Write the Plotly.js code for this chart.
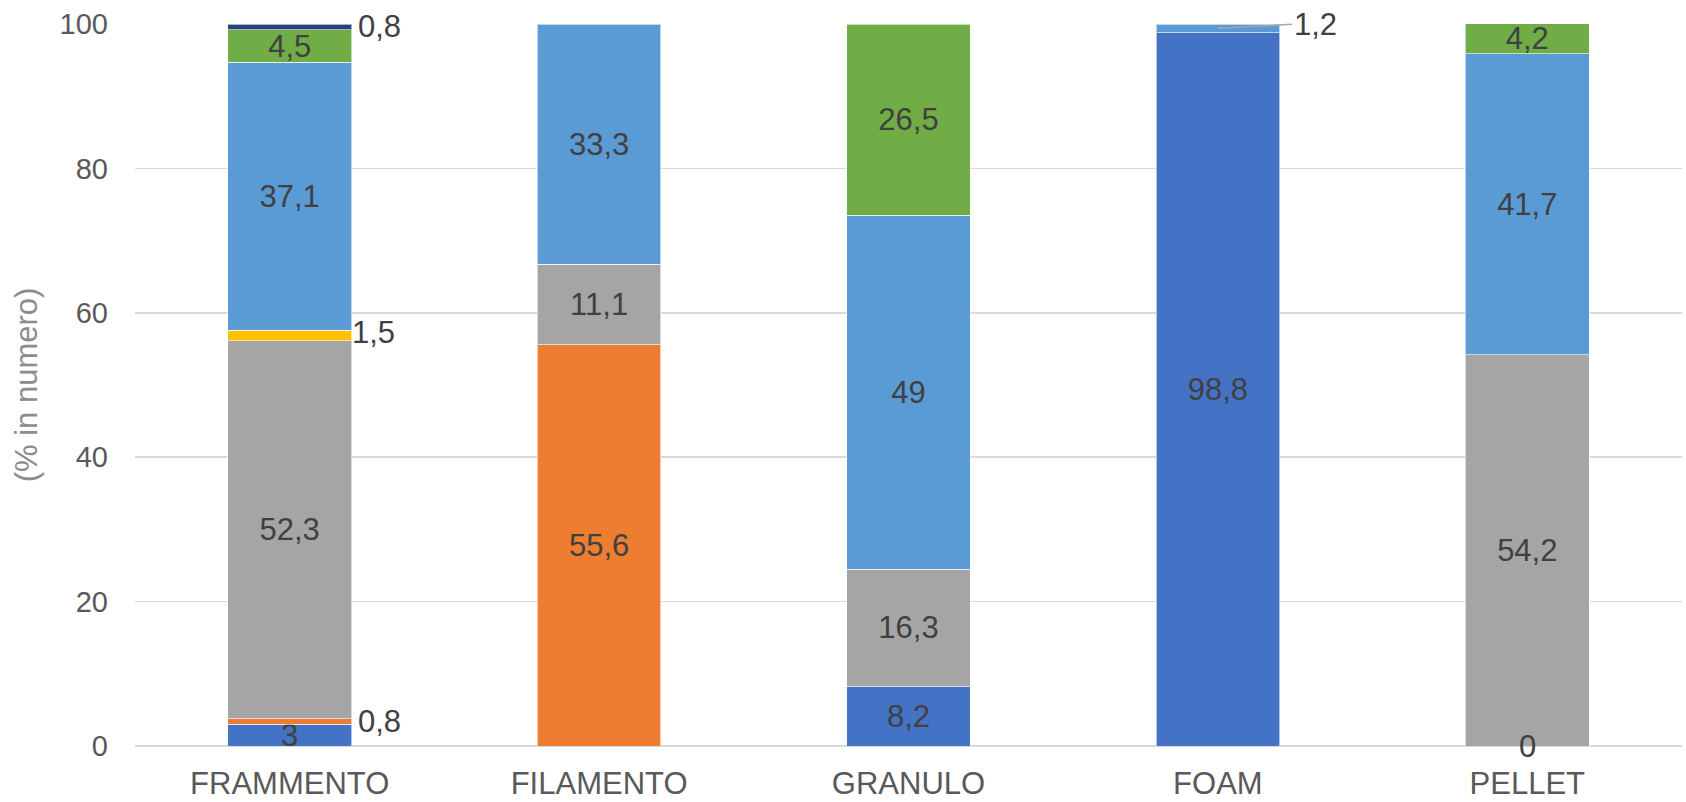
<!DOCTYPE html>
<html>
<head>
<meta charset="utf-8">
<script src="https://cdn.plot.ly/plotly-3.0.1.min.js"></script>
<style>
  html, body { margin: 0; padding: 0; background: #ffffff; }
  #chart { width: 1686px; height: 802px; }
</style>
</head>
<body>
<div id="chart"></div>
<script>
// Categorie di forma delle microplastiche
const categories = ['FRAMMENTO', 'FILAMENTO', 'GRANULO', 'FOAM', 'PELLET'];

// Percentuali (in numero) per ciascuna serie, impilate dal basso verso l'alto
const serie1 = [3, null, 8.2, 98.8, 0];        // blu
const serie2 = [0.8, 55.6, null, null, null];  // arancio
const serie3 = [52.3, 11.1, 16.3, null, 54.2]; // grigio
const serie4 = [1.5, null, null, null, null];  // giallo
const serie5 = [37.1, 33.3, 49, 1.2, 41.7];    // azzurro
const serie6 = [4.5, null, 26.5, null, 4.2];   // verde
const serie7 = [0.8, null, null, null, null];  // blu scuro

const yTicks = [0, 20, 40, 60, 80, 100];

const series = [serie1, serie2, serie3, serie4, serie5, serie6, serie7];
const colors = ['#4472C4', '#ED7D31', '#A5A5A5', '#FFC000', '#5B9BD5', '#70AD47', '#264478'];

// Etichette troppo piccole per stare dentro la barra: mostrate a destra
// [indice serie, indice categoria, con linea guida]
const outsideLabels = [
  [1, 0, false],
  [3, 0, false],
  [6, 0, false],
  [4, 3, true]
];

const fmt = v => String(v).replace('.', ',');
const isOutside = (s, c) => outsideLabels.some(o => o[0] === s && o[1] === c);

const labelFont = { family: 'Liberation Sans, Arial, sans-serif', size: 31, color: '#404040' };

const traces = series.map((vals, s) => ({
  type: 'bar',
  x: categories,
  y: vals,
  marker: { color: colors[s], line: { color: 'rgba(255,255,255,0.6)', width: 1 } },
  text: vals.map((v, c) => (v === null || v === 0 || isOutside(s, c)) ? '' : fmt(v)),
  textposition: 'inside',
  insidetextanchor: 'middle',
  textangle: 0,
  constraintext: 'none',
  textfont: labelFont,
  hoverinfo: 'x+y',
  showlegend: false
}));

// Centro verticale di ciascun segmento impilato
function segmentCenter(s, c) {
  let base = 0;
  for (let k = 0; k < s; k++) base += series[k][c] || 0;
  return base + (series[s][c] || 0) / 2;
}

const annotations = outsideLabels.map(([s, c, leader]) => {
  const yc = segmentCenter(s, c);
  if (leader) {
    return {
      x: categories[c], y: yc, xref: 'x', yref: 'y',
      text: fmt(series[s][c]), font: labelFont,
      showarrow: true, arrowhead: 0, arrowwidth: 1.5, arrowcolor: '#A6A6A6',
      ax: 74, ay: -4, xanchor: 'left', yanchor: 'middle'
    };
  }
  return {
    x: categories[c], y: yc, xref: 'x', yref: 'y',
    text: fmt(series[s][c]), font: labelFont,
    showarrow: false, xanchor: 'left', yanchor: 'middle',
    xshift: s === 3 ? 60 : 66, yshift: s === 3 ? 3 : 0
  };
});

// Valori nulli espliciti: etichetta sulla base della barra
series.forEach((vals, s) => {
  vals.forEach((v, c) => {
    if (v === 0) {
      annotations.push({
        x: categories[c], y: 0, xref: 'x', yref: 'y',
        text: fmt(v), font: labelFont, showarrow: false,
        xanchor: 'center', yanchor: 'middle'
      });
    }
  });
});

const layout = {
  width: 1686,
  height: 802,
  margin: { l: 135, r: 4, t: 24, b: 56 },
  paper_bgcolor: '#ffffff',
  plot_bgcolor: '#ffffff',
  barmode: 'stack',
  bargap: 0.6,
  separators: ',.',
  font: { family: 'Liberation Sans, Arial, sans-serif', color: '#595959' },
  xaxis: {
    type: 'category',
    tickfont: { size: 31, color: '#595959' },
    showgrid: false,
    zeroline: false,
    showline: false,
    ticks: '',
    ticklabelstandoff: 16
  },
  yaxis: {
    range: [0, 100],
    tickvals: yTicks,
    ticktext: yTicks.map(String),
    tickfont: { size: 29, color: '#595959' },
    showgrid: true,
    gridcolor: '#D9D9D9',
    gridwidth: 1.5,
    zeroline: true,
    zerolinecolor: '#D9D9D9',
    zerolinewidth: 1.5,
    showline: false,
    ticks: '',
    ticklabelstandoff: 26,
    title: { text: '(% in numero)', font: { size: 31, color: '#8C8C8C' }, standoff: 12 }
  },
  annotations: annotations
};

Plotly.newPlot('chart', traces, layout, { displayModeBar: false, staticPlot: true });
</script>
</body>
</html>
